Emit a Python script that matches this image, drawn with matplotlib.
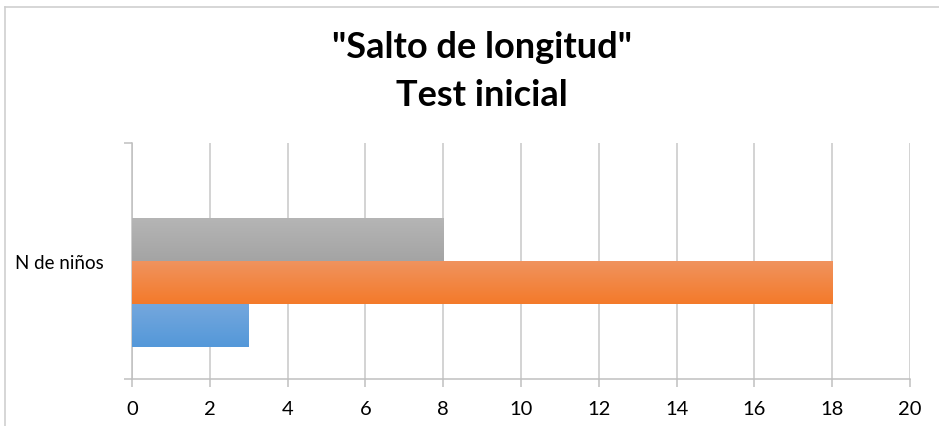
import numpy as np
import matplotlib
matplotlib.use("Agg")
import matplotlib.pyplot as plt
from matplotlib.lines import Line2D
from matplotlib.colors import LinearSegmentedColormap

plt.rcParams['font.family'] = ['Lato', 'DejaVu Sans']

# data
category = "N de niños"
series_values = [3, 18, 8]          # bottom -> top
top_colors = ['#74a7dd', '#f0935e', '#b5b5b5']
bottom_colors = ['#5498d9', '#f47a2a', '#a4a4a4']
x_ticks = list(range(0, 21, 2))
title_lines = ['"Salto de longitud"', 'Test inicial']

fig = plt.figure(figsize=(9.39, 4.27), dpi=100)
ax = fig.add_axes([132/939, 1-380/427, (910-132)/939, (380-144)/427])

bar_h = 0.182
group_shift = -0.09
offsets = [group_shift - bar_h, group_shift, group_shift + bar_h]
grad = np.linspace(0, 1, 64).reshape(-1, 1)
for val, off, c1, c2 in zip(series_values, offsets, top_colors, bottom_colors):
    bars = ax.barh(off, val, height=bar_h, color=c2, linewidth=0, zorder=2)
    rect = bars[0]
    cmap = LinearSegmentedColormap.from_list('g', [c1, c2])
    im = ax.imshow(grad, cmap=cmap, aspect='auto', zorder=3, origin='upper',
                   extent=[0, val, off - bar_h/2, off + bar_h/2])
    im.set_clip_path(rect)

ax.set_xlim(0, 20)
ax.set_ylim(-0.5, 0.5)
ax.set_xticks(x_ticks)
ax.set_xticklabels([str(t) for t in x_ticks], fontsize=14.5)
ax.set_yticks([0])
ax.set_yticklabels([category], fontsize=13.5)
ax.set_yticks([-0.5, 0.5], minor=True)
ax.tick_params(axis='y', which='major', length=0, pad=20)
ax.tick_params(axis='y', which='minor', length=6, color='#c0c0c0', width=1.1)
ax.tick_params(axis='x', length=6, color='#c0c0c0', width=1.1, pad=9)
ax.xaxis.grid(True, color='#c8c8c8', linewidth=1.1, zorder=0)
ax.set_axisbelow(True)
for s in ['top', 'right']:
    ax.spines[s].set_visible(False)
for s in ['left', 'bottom']:
    ax.spines[s].set_color('#c0c0c0')
    ax.spines[s].set_linewidth(1.1)

# chart border
fig.add_artist(Line2D([5/939, 1], [1-8/427, 1-8/427], color='#cfcfcf', lw=1.2))
fig.add_artist(Line2D([5/939, 5/939], [0, 1-8/427], color='#cfcfcf', lw=1.2))

fig.text(0.513, 1-48/427, title_lines[0], ha='center', va='center',
         fontsize=26, fontweight='bold')
fig.text(0.513, 1-96/427, title_lines[1], ha='center', va='center',
         fontsize=26, fontweight='bold')

fig.savefig('out.png', dpi=100)
